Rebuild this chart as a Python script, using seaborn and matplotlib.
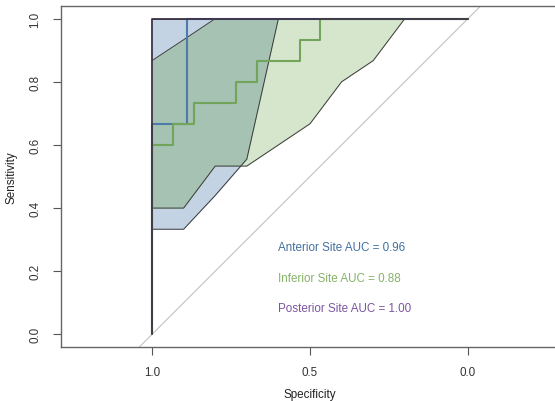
import numpy as np
import pandas as pd
import seaborn as sns
import matplotlib
matplotlib.use("Agg")
import matplotlib.pyplot as plt

# ROC curve vertices (specificity, sensitivity)
ant_spec = [1.0, 1.0, 0.889, 0.889, 0.0]
ant_sens = [0.0, 0.667, 0.667, 1.0, 1.0]

inf_spec = [1.0, 1.0, 0.933, 0.933, 0.867, 0.867, 0.733, 0.733, 0.667, 0.667,
            0.533, 0.533, 0.467, 0.467, 0.0]
inf_sens = [0.0, 0.6, 0.6, 0.667, 0.667, 0.733, 0.733, 0.8, 0.8, 0.867,
            0.867, 0.933, 0.933, 1.0, 1.0]

post_spec = [1.0, 1.0, 0.0]
post_sens = [0.0, 1.0, 1.0]

# Confidence bands of sensitivity at fixed specificities
ci_spec = [1.0, 0.9, 0.8, 0.7, 0.6, 0.5, 0.4, 0.3, 0.2, 0.1, 0.0]
ant_lo = [0.333, 0.333, 0.44, 0.555, 1.0, 1.0, 1.0, 1.0, 1.0, 1.0, 1.0]
ant_hi = [1.0, 1.0, 1.0, 1.0, 1.0, 1.0, 1.0, 1.0, 1.0, 1.0, 1.0]
inf_lo = [0.4, 0.4, 0.533, 0.533, 0.6, 0.667, 0.8, 0.867, 1.0, 1.0, 1.0]
inf_hi = [0.867, 0.933, 1.0, 1.0, 1.0, 1.0, 1.0, 1.0, 1.0, 1.0, 1.0]

labels = ["Anterior Site AUC = 0.96", "Inferior Site AUC = 0.88", "Posterior Site AUC = 1.00"]

sns.set_style("white")
plt.rcParams["font.family"] = ["Liberation Sans", "DejaVu Sans"]

fig = plt.figure(figsize=(5.55, 4.02), dpi=100)
ax = fig.add_axes([61 / 555, 54 / 402, 498 / 555, 341 / 402])

BLUE_FILL = "#c4d3e4"
GREEN_FILL = "#d6e6cc"
OVER_FILL = "#a5c2b2"
EDGE = "#3a3a3a"

ax.fill_between(ci_spec, ant_lo, ant_hi, color=BLUE_FILL, lw=0, zorder=1)
ax.fill_between(ci_spec, inf_lo, inf_hi, color=GREEN_FILL, lw=0, zorder=1)
# overlap of both bands
g = np.linspace(1.0, 0.0, 2001)
x_asc = ci_spec[::-1]
lo = np.maximum(np.interp(g, x_asc, ant_lo[::-1]), np.interp(g, x_asc, inf_lo[::-1]))
hi = np.minimum(np.interp(g, x_asc, ant_hi[::-1]), np.interp(g, x_asc, inf_hi[::-1]))
ax.fill_between(g, lo, hi, where=hi > lo, color=OVER_FILL, lw=0, zorder=1.5)

# band outlines
for lo_, hi_ in [(ant_lo, ant_hi), (inf_lo, inf_hi)]:
    ax.plot(ci_spec, lo_, color=EDGE, lw=0.7, zorder=2)
    ax.plot(ci_spec, hi_, color=EDGE, lw=0.7, zorder=2)

# chance diagonal
ax.axline((1.0, 0.0), (0.0, 1.0), color="#c8c8c8", lw=0.9, zorder=1.8)

df = pd.concat([
    pd.DataFrame({"spec": ant_spec, "sens": ant_sens, "site": "Anterior"}),
    pd.DataFrame({"spec": inf_spec, "sens": inf_sens, "site": "Inferior"}),
    pd.DataFrame({"spec": post_spec, "sens": post_sens, "site": "Posterior"}),
])
line_cols = {"Anterior": "#4d7aaa", "Inferior": "#72a55a", "Posterior": "#3d3347"}
line_w = {"Anterior": 1.5, "Inferior": 1.5, "Posterior": 1.3}
for i, site in enumerate(["Anterior", "Inferior", "Posterior"]):
    sns.lineplot(data=df[df.site == site], x="spec", y="sens", sort=False,
                 estimator=None, color=line_cols[site], lw=line_w[site], ax=ax,
                 zorder=3 + i)

txt_cols = ["#41709f", "#86b26a", "#7d55a0"]
txt_y = [0.278, 0.180, 0.082]
for lab, c, yy in zip(labels, txt_cols, txt_y):
    ax.text(0.601, yy, lab, color=c, fontsize=8.4, ha="left", va="center", zorder=6)

ax.set_xlim(1.288, -0.288)
ax.set_ylim(-0.04, 1.04)
ax.set_xticks([1.0, 0.5, 0.0])
ax.set_xticklabels(["1.0", "0.5", "0.0"])
ax.set_yticks([0.0, 0.2, 0.4, 0.6, 0.8, 1.0])
ax.set_yticklabels(["0.0", "0.2", "0.4", "0.6", "0.8", "1.0"], rotation=90, va="center")
ax.tick_params(axis="both", direction="out", length=6, width=0.8, color="#555555",
               labelsize=8.4, labelcolor="#333333", bottom=True, left=True, pad=8)
ax.set_xlabel("Specificity", fontsize=8.4, color="#222222", labelpad=7)
ax.set_ylabel("Sensitivity", fontsize=8.4, color="#222222", labelpad=9)
for s in ax.spines.values():
    s.set_color("#666666")
    s.set_linewidth(1.0)
    s.set_visible(True)

fig.savefig("out.png", dpi=100)
